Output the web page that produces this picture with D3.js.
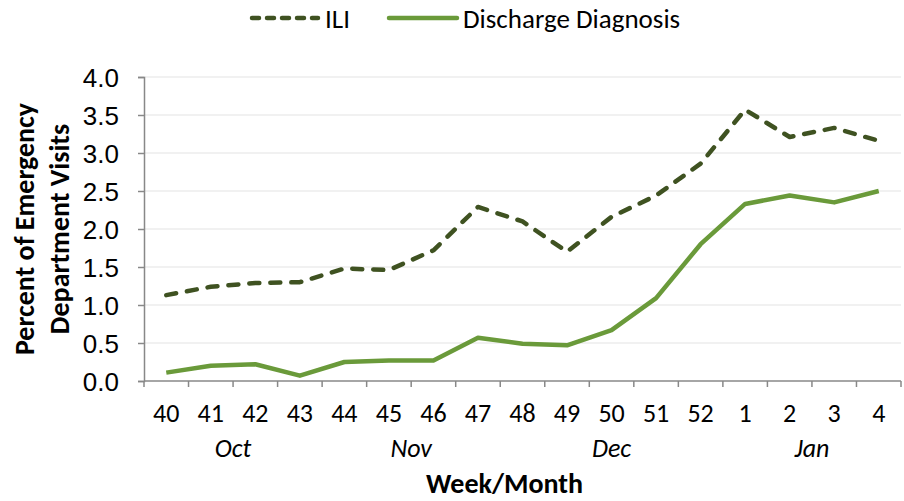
<!DOCTYPE html>
<html>
<head>
<meta charset="utf-8">
<script src="https://cdn.jsdelivr.net/npm/d3@7"></script>
<style>
  body { margin: 0; background: #fff; }
  svg { display: block; font-family: Carlito, Calibri, Lato, sans-serif; }
</style>
</head>
<body>
<svg width="904" height="501"></svg>
<script>
var weeks = ["40","41","42","43","44","45","46","47","48","49","50","51","52","1","2","3","4"];
var ili = [1.13,1.24,1.29,1.30,1.48,1.46,1.72,2.29,2.10,1.70,2.16,2.44,2.86,3.57,3.21,3.33,3.16];
var discharge = [0.11,0.20,0.22,0.07,0.25,0.27,0.27,0.57,0.49,0.47,0.67,1.09,1.80,2.33,2.44,2.35,2.50];
// first and last week of each month
var months = ["Oct","Nov","Dec","Jan"];
var monthSpans = [["40","43"],["44","47"],["48","52"],["1","4"]];
var yTicks = [0,0.5,1,1.5,2,2.5,3,3.5,4];

var drawChart = function() {
  let svg = d3.select("svg");
  let margin = { top: 77, right: 3, bottom: 120, left: 144 };
  let plotWidth = 904 - margin.left - margin.right;
  let plotHeight = 501 - margin.top - margin.bottom;

  let x = d3.scaleBand().domain(weeks).range([0, plotWidth]);
  let y = d3.scaleLinear().domain([0, 4]).range([plotHeight, 0]);

  let plot = svg.append("g").attr("transform", "translate(" + margin.left + "," + margin.top + ")");

  // gridlines
  plot.append("g").selectAll("line").data(yTicks.slice(1)).join("line")
    .attr("x1", 0).attr("x2", plotWidth)
    .attr("y1", d => y(d)).attr("y2", d => y(d))
    .attr("stroke", "#ececec").attr("stroke-width", 1.5);

  // y axis
  let yAxis = d3.axisLeft(y).tickValues(yTicks).tickFormat(d3.format(".1f")).tickSize(6).tickPadding(19);
  let yGroup = plot.append("g").call(yAxis);
  yGroup.select(".domain").attr("stroke", "#888").attr("stroke-width", 1.5);
  yGroup.selectAll(".tick line").attr("stroke", "#888").attr("stroke-width", 1.5);
  yGroup.selectAll("text").attr("font-size", 26).attr("font-family", null).attr("fill", "#000")
    .attr("dy", "0.35em");

  // x axis: ticks at band boundaries
  let xGroup = plot.append("g").attr("transform", "translate(0," + plotHeight + ")");
  xGroup.append("line").attr("x1", 0).attr("x2", plotWidth)
    .attr("stroke", "#888").attr("stroke-width", 1.5);
  xGroup.selectAll("line.tk").data(weeks.concat(["end"])).join("line").attr("class", "tk")
    .attr("x1", (d, i) => i * x.step()).attr("x2", (d, i) => i * x.step())
    .attr("y1", 0).attr("y2", 6).attr("stroke", "#888").attr("stroke-width", 1.5);
  xGroup.selectAll("text.wk").data(weeks).join("text").attr("class", "wk")
    .attr("x", d => x(d) + x.bandwidth() / 2).attr("y", 41)
    .attr("text-anchor", "middle").attr("font-size", 26).text(d => d);
  xGroup.selectAll("text.mo").data(months).join("text").attr("class", "mo")
    .attr("x", (d, i) => (x(monthSpans[i][0]) + x(monthSpans[i][1]) + x.bandwidth()) / 2)
    .attr("y", 76).attr("text-anchor", "middle").attr("font-size", 26)
    .attr("font-style", "italic").text(d => d);
  xGroup.append("text").attr("x", plotWidth / 2 - 18).attr("y", 112)
    .attr("text-anchor", "middle").attr("font-size", 28).attr("font-weight", "bold")
    .text("Week/Month");

  // y title
  let yLabel = svg.append("text")
    .attr("transform", "translate(34," + (margin.top + plotHeight / 2 - 0) + ") rotate(-90)")
    .attr("text-anchor", "middle").attr("font-size", 28).attr("font-weight", "bold");
  yLabel.append("tspan").attr("x", 0).attr("dy", 0).text("Percent of Emergency");
  yLabel.append("tspan").attr("x", 0).attr("dy", 35).text("Department Visits");

  let line = d3.line().x((d, i) => x(weeks[i]) + x.bandwidth() / 2).y(d => y(d));

  plot.append("path").datum(discharge).attr("d", line)
    .attr("fill", "none").attr("stroke", "#6a9a3a").attr("stroke-width", 4.5)
    .attr("stroke-linejoin", "round");
  plot.append("path").datum(ili).attr("d", line)
    .attr("fill", "none").attr("stroke", "#3f5221").attr("stroke-width", 4.5)
    .attr("stroke-dasharray", "10,11").attr("stroke-linecap", "round")
    .attr("stroke-linejoin", "round");

  // legend
  let legend = svg.append("g");
  legend.append("line").attr("x1", 252).attr("x2", 318).attr("y1", 18).attr("y2", 18)
    .attr("stroke", "#3f5221").attr("stroke-width", 4.5)
    .attr("stroke-dasharray", "7,8").attr("stroke-linecap", "round");
  legend.append("text").attr("x", 325).attr("y", 28).attr("font-size", 27).text("ILI");
  legend.append("line").attr("x1", 389).attr("x2", 457).attr("y1", 18).attr("y2", 18)
    .attr("stroke", "#6a9a3a").attr("stroke-width", 4.5).attr("stroke-linecap", "round");
  legend.append("text").attr("x", 463).attr("y", 28).attr("font-size", 27).text("Discharge Diagnosis");
};
drawChart();
</script>
</body>
</html>
